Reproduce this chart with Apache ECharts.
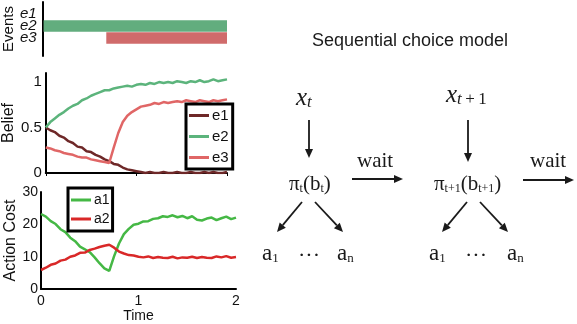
<!DOCTYPE html>
<html lang="en" style="height: 100%">
<head>
  <meta charset="utf-8">
  <style>
    html, body { margin: 0; padding: 0; width: 100%; height: 100%; overflow: hidden; background: #fff; }
  </style>
</head>
<body>
  <div id="container" style="height: 100%; width: 100%;"></div>
  <script src="https://cdn.jsdelivr.net/npm/echarts@6/dist/echarts.min.js"></script>
  <script>
    var dom = document.getElementById('container');
    var myChart = echarts.init(dom, null, { renderer: 'canvas' });

    // ---- data ----
    var time = [0, 0.05, 0.1, 0.15, 0.2, 0.25, 0.3, 0.35, 0.4, 0.45,
      0.5, 0.55, 0.6, 0.65, 0.7, 0.75, 0.8, 0.85, 0.9, 0.95,
      1.0, 1.05, 1.1, 1.15, 1.2, 1.25, 1.3, 1.35, 1.4, 1.45,
      1.5, 1.55, 1.6, 1.65, 1.7, 1.75, 1.8, 1.85, 1.9, 1.95, 2.0];

    // events panel: row on the axis, onset and offset (time)
    var eventLabels = ['e1', 'e2', 'e3'];
    var eventRows = [2, 3];
    var eventStart = [0, 0.68];
    var eventEnd = [2, 2];

    // belief
    var beliefE1 = [0.50, 0.47, 0.45, 0.41, 0.39, 0.35, 0.33, 0.29, 0.28, 0.24,
      0.23, 0.20, 0.18, 0.15, 0.13, 0.10, 0.09, 0.06, 0.04, 0.03,
      0.02, 0.01, 0.00, 0.01, 0.00, 0.00, 0.01, 0.00, 0.00, 0.01,
      0.00, 0.00, 0.01, 0.00, 0.00, 0.01, 0.00, 0.01, 0.00, 0.00, 0.01];
    var beliefE2 = [0.50, 0.56, 0.60, 0.64, 0.67, 0.71, 0.74, 0.76, 0.80, 0.82,
      0.85, 0.87, 0.89, 0.91, 0.91, 0.93, 0.94, 0.95, 0.96, 0.95,
      0.97, 0.98, 0.97, 0.99, 0.98, 1.00, 0.99, 1.00, 0.99, 1.01,
      1.00, 0.99, 1.01, 1.00, 1.02, 1.00, 1.01, 1.03, 1.01, 1.02, 1.03];
    var beliefE3 = [0.28, 0.27, 0.25, 0.24, 0.22, 0.21, 0.20, 0.18, 0.17, 0.17,
      0.15, 0.14, 0.13, 0.12, 0.11, 0.28, 0.44, 0.56, 0.63, 0.67,
      0.70, 0.73, 0.74, 0.75, 0.77, 0.76, 0.78, 0.77, 0.78, 0.79,
      0.78, 0.80, 0.79, 0.78, 0.80, 0.79, 0.78, 0.80, 0.79, 0.80, 0.81];

    // action cost
    var costA1 = [23.2, 22.4, 21.0, 20.1, 18.5, 17.6, 15.9, 14.8, 13.1, 12.3,
      11.4, 9.8, 8.0, 6.4, 5.6, 10.2, 14.1, 17.0, 18.6, 19.9,
      20.2, 20.9, 21.0, 21.7, 21.9, 22.5, 22.3, 22.8, 22.2, 22.6,
      21.9, 22.5, 21.4, 21.2, 21.8, 22.1, 21.3, 21.9, 22.4, 21.6, 22.1];
    var costA2 = [5.9, 6.6, 7.5, 7.9, 8.8, 9.1, 10.0, 10.4, 11.2, 11.3,
      12.1, 12.5, 13.0, 13.4, 13.7, 12.8, 11.6, 11.0, 10.5, 10.4,
      10.0, 9.8, 10.1, 9.6, 9.9, 9.7, 9.6, 10.0, 9.5, 9.8,
      9.7, 10.0, 9.6, 9.9, 9.7, 9.6, 10.1, 9.8, 10.2, 9.7, 9.9];

    // ---- styles ----
    var SANS = '"Liberation Sans", Arial, sans-serif';
    var SERIF = '"Liberation Serif", "Times New Roman", serif';
    var INK = '#1a1a1a';
    var eventColors = ['#62ad7e', '#d06b6b'];

    function pairs(ys) {
      return time.map(function (t, i) { return [t, ys[i]]; });
    }

    function lineSeries(name, ys, color, axis) {
      return {
        name: name, type: 'line', xAxisIndex: axis, yAxisIndex: axis,
        data: pairs(ys), showSymbol: false, symbol: 'none',
        lineStyle: { color: color, width: 2.5 }, itemStyle: { color: color }
      };
    }

    function axisBase(grid) {
      return {
        gridIndex: grid, type: 'value',
        axisLine: { show: true, lineStyle: { color: '#000', width: 2 } },
        axisTick: { show: false },
        splitLine: { show: false },
        axisLabel: { color: '#111', fontFamily: SANS, fontSize: 14 },
        nameTextStyle: { color: '#111', fontFamily: SANS, fontSize: 16 }
      };
    }

    function arrow(x1, y1, x2, y2) {
      var a = Math.atan2(y2 - y1, x2 - x1), L = 9, W = 4;
      var bx = x2 - L * Math.cos(a), by = y2 - L * Math.sin(a);
      return [
        { type: 'line', shape: { x1: x1, y1: y1, x2: bx, y2: by }, style: { stroke: INK, lineWidth: 1.8 } },
        { type: 'polygon', shape: { points: [[x2, y2], [bx - W * Math.sin(a), by + W * Math.cos(a)], [bx + W * Math.sin(a), by - W * Math.cos(a)]] }, style: { fill: INK } }
      ];
    }

    var rich = {
      M: { fontFamily: SERIF, fontSize: 25, fontStyle: 'italic', lineHeight: 26, verticalAlign: 'bottom', fill: INK },
      MS: { fontFamily: SERIF, fontSize: 17, fontStyle: 'italic', lineHeight: 8, verticalAlign: 'bottom', fill: INK },
      US: { fontFamily: SERIF, fontSize: 17, lineHeight: 8, verticalAlign: 'bottom', fill: INK },
      R: { fontFamily: SERIF, fontSize: 21, lineHeight: 22, verticalAlign: 'bottom', fill: INK },
      RS: { fontFamily: SERIF, fontSize: 12, lineHeight: 8, verticalAlign: 'bottom', fill: INK },
      A: { fontFamily: SERIF, fontSize: 23, lineHeight: 24, verticalAlign: 'bottom', fill: INK },
      AS: { fontFamily: SERIF, fontSize: 13, lineHeight: 16, verticalAlign: 'bottom', fill: INK }
    };

    function math(x, yBottom, text) {
      return { type: 'text', x: x, y: yBottom, style: { text: text, rich: rich, align: 'left', verticalAlign: 'bottom', fill: INK } };
    }

    function plain(x, y, text, font, size, align) {
      return { type: 'text', x: x, y: y, style: { text: text, fontFamily: font, fontSize: size, fill: INK, align: align || 'left', verticalAlign: 'middle' } };
    }

    var diagram = [
      plain(410, 41, 'Sequential choice model', SANS, 18, 'center'),
      math(296, 111, '{M|x}{MS|t}'),
      math(446, 108, '{M|x}{MS|t}{US|\u2009+\u20091}'),
      plain(357, 161, 'wait', SERIF, 21),
      plain(530, 161, 'wait', SERIF, 21),
      math(289, 195, '{R|π}{RS|t}{R|(b}{RS|t}{R|)}'),
      math(434, 195, '{R|π}{RS|t+1}{R|(b}{RS|t+1}{R|)}'),
      math(262, 265, '{A|a}{AS|1}'),
      plain(309, 256, '···', SERIF, 22, 'center'),
      math(337, 265, '{A|a}{AS|n}'),
      math(429, 265, '{A|a}{AS|1}'),
      plain(476, 256, '···', SERIF, 22, 'center'),
      math(507, 265, '{A|a}{AS|n}')
    ].concat(
      arrow(309, 120, 309, 158),
      arrow(468, 120, 468, 162),
      arrow(352, 179, 403, 179),
      arrow(523, 180, 574, 180),
      arrow(302, 202, 277, 232),
      arrow(315, 202, 343, 232),
      arrow(467, 202, 442, 232),
      arrow(480, 202, 508, 232)
    );

    var yEvents = axisBase(0);
    yEvents.inverse = true; yEvents.min = 0; yEvents.max = 4.5; yEvents.interval = 1;
    yEvents.name = 'Events'; yEvents.nameLocation = 'middle'; yEvents.nameRotate = 90; yEvents.nameGap = 22;
    yEvents.nameTextStyle.fontSize = 15;
    yEvents.axisLabel.fontStyle = 'italic'; yEvents.axisLabel.margin = 6; yEvents.axisLabel.fontSize = 15;
    yEvents.axisLabel.formatter = function (v) { return eventLabels[v - 1] || ''; };

    var yBelief = axisBase(1);
    yBelief.min = 0; yBelief.max = 1.1; yBelief.interval = 0.5;
    yBelief.name = 'Belief'; yBelief.nameLocation = 'middle'; yBelief.nameRotate = 90; yBelief.nameGap = 21;
    yBelief.axisLabel.fontSize = 15; yBelief.axisLabel.margin = 4;
    yBelief.axisLabel.formatter = function (v) { return v > 1.05 ? '' : String(v); };

    var yCost = axisBase(2);
    yCost.min = 0; yCost.max = 30; yCost.interval = 10;
    yCost.name = 'Action Cost'; yCost.nameLocation = 'middle'; yCost.nameRotate = 90; yCost.nameGap = 21;
    yCost.axisLabel.margin = 3;

    var xEvents = axisBase(0);
    xEvents.min = 0; xEvents.max = 2; xEvents.show = false;

    var xBelief = axisBase(1);
    xBelief.min = 0; xBelief.max = 2; xBelief.interval = 1;
    xBelief.axisLabel.show = false;
    xBelief.axisTick = { show: true, length: 3, lineStyle: { color: '#000', width: 1 } };

    var xCost = axisBase(2);
    xCost.min = 0; xCost.max = 2; xCost.interval = 1;
    xCost.axisLabel.margin = 5;
    xCost.nameTextStyle.fontSize = 14;
    xCost.name = 'Time'; xCost.nameLocation = 'middle'; xCost.nameGap = 17;

    var legendBase = {
      orient: 'vertical', icon: 'rect', itemWidth: 20, itemHeight: 3,
      backgroundColor: '#fff', borderColor: '#000', borderWidth: 3, borderRadius: 0,
      textStyle: { color: '#111', fontFamily: SANS, fontSize: 15, padding: [0, 0, 0, -2] }
    };

    var option = {
      animation: false,
      backgroundColor: '#fff',
      grid: [
        { left: 41, top: 2, width: 186, height: 54 },
        { left: 41, top: 73, width: 186, height: 100 },
        { left: 41, top: 192, width: 195, height: 101 }
      ],
      xAxis: [xEvents, xBelief, xCost],
      yAxis: [yEvents, yBelief, yCost],
      legend: [
        echarts.util.merge({ data: ['e1', 'e2', 'e3'], left: 186, top: 104, itemGap: 6, padding: [4, 4, 4, 3] }, legendBase),
        echarts.util.merge({ data: ['a1', 'a2'], left: 68, top: 188, itemGap: 5, padding: [5, 3, 5, 3],
          textStyle: { fontSize: 14 } }, legendBase)
      ],
      series: [
        {
          name: 'events', type: 'custom', xAxisIndex: 0, yAxisIndex: 0,
          data: eventRows.map(function (r, i) { return [r, eventStart[i], eventEnd[i]]; }),
          encode: { x: [1, 2], y: 0 },
          renderItem: function (params, api) {
            var row = api.value(0);
            var s = api.coord([api.value(1), row]);
            var e = api.coord([api.value(2), row]);
            var h = api.size([0, 1])[1] * 0.96;
            return {
              type: 'rect',
              shape: { x: s[0] + 1, y: s[1] - h / 2, width: e[0] - s[0] - 1, height: h },
              style: { fill: eventColors[params.dataIndex] }
            };
          }
        },
        lineSeries('e1', beliefE1, '#6e2828', 1),
        lineSeries('e2', beliefE2, '#5cb47c', 1),
        lineSeries('e3', beliefE3, '#e06666', 1),
        lineSeries('a1', costA1, '#45b845', 2),
        lineSeries('a2', costA2, '#d92828', 2)
      ],
      graphic: { elements: diagram }
    };

    myChart.setOption(option);
    window.addEventListener('resize', myChart.resize);
  </script>
</body>
</html>
